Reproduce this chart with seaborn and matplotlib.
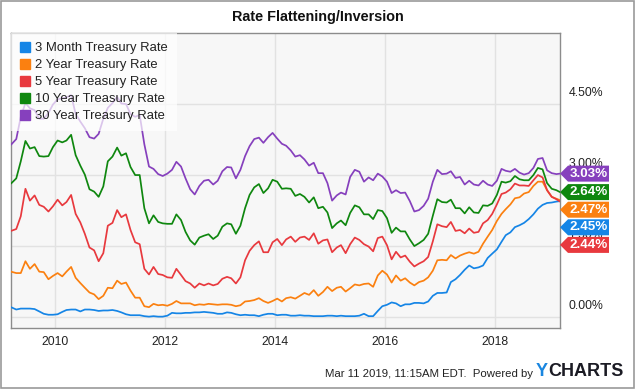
import numpy as np
import pandas as pd
import matplotlib
matplotlib.use("Agg")
import matplotlib.pyplot as plt
import matplotlib.dates as mdates
from matplotlib.patches import Polygon, Rectangle
from matplotlib.lines import Line2D
from matplotlib.transforms import ScaledTranslation
import seaborn as sns

# ---------------- data (monthly, Mar 2009 - Mar 2019) ----------------
series_names = ["3 Month Treasury Rate", "2 Year Treasury Rate", "5 Year Treasury Rate",
                "10 Year Treasury Rate", "30 Year Treasury Rate"]
series_colors = ["#1585e6", "#fb8010", "#e8393e", "#0f870f", "#8640bd"]

m3 = [0.21, 0.16, 0.18, 0.18, 0.18, 0.17, 0.12, 0.07, 0.05, 0.05,
      0.06, 0.11, 0.15, 0.16, 0.16, 0.12, 0.16, 0.16, 0.15, 0.13, 0.14, 0.14,
      0.15, 0.13, 0.10, 0.06, 0.04, 0.04, 0.04, 0.02, 0.01, 0.02, 0.01, 0.01,
      0.03, 0.09, 0.08, 0.08, 0.09, 0.09, 0.10, 0.10, 0.11, 0.10, 0.09, 0.07,
      0.07, 0.10, 0.09, 0.06, 0.04, 0.05, 0.04, 0.04, 0.02, 0.05, 0.07, 0.07,
      0.04, 0.05, 0.05, 0.03, 0.03, 0.04, 0.03, 0.03, 0.02, 0.02, 0.02, 0.03,
      0.03, 0.02, 0.03, 0.02, 0.02, 0.02, 0.03, 0.07, 0.02, 0.02, 0.13, 0.23,
      0.26, 0.31, 0.29, 0.23, 0.27, 0.27, 0.30, 0.30, 0.29, 0.33, 0.45, 0.51,
      0.51, 0.52, 0.74, 0.80, 0.89, 1.00, 1.09, 1.03, 1.05, 1.09, 1.25, 1.34,
      1.43, 1.59, 1.73, 1.79, 1.90, 1.94, 1.99, 2.07, 2.17, 2.29, 2.37, 2.41,
      2.42, 2.44, 2.45]

y2 = [0.96, 0.93, 0.93, 1.18, 1.02, 1.12, 0.96, 0.95, 0.80, 0.87,
      0.93, 0.86, 0.96, 1.06, 0.83, 0.72, 0.62, 0.52, 0.48, 0.38, 0.45, 0.62,
      0.61, 0.77, 0.70, 0.73, 0.56, 0.41, 0.41, 0.23, 0.21, 0.28, 0.25, 0.26,
      0.24, 0.28, 0.34, 0.29, 0.29, 0.29, 0.25, 0.27, 0.26, 0.28, 0.27, 0.26,
      0.27, 0.27, 0.26, 0.23, 0.25, 0.33, 0.34, 0.36, 0.40, 0.34, 0.30, 0.34,
      0.39, 0.33, 0.40, 0.42, 0.39, 0.45, 0.51, 0.47, 0.57, 0.45, 0.53, 0.64,
      0.55, 0.62, 0.64, 0.54, 0.61, 0.69, 0.67, 0.70, 0.71, 0.64, 0.88, 0.98,
      0.90, 0.73, 0.88, 0.77, 0.82, 0.73, 0.67, 0.74, 0.77, 0.84, 0.98, 1.20,
      1.21, 1.20, 1.31, 1.24, 1.30, 1.34, 1.37, 1.34, 1.38, 1.55, 1.70, 1.84,
      2.03, 2.18, 2.28, 2.38, 2.51, 2.53, 2.61, 2.64, 2.77, 2.86, 2.86, 2.68,
      2.54, 2.50, 2.47]

y5 = [1.82, 1.86, 2.13, 2.71, 2.46, 2.57, 2.37, 2.33, 2.23, 2.34,
      2.48, 2.36, 2.43, 2.58, 2.18, 2.00, 1.76, 1.47, 1.41, 1.18, 1.35, 1.93,
      1.99, 2.26, 2.11, 2.17, 1.84, 1.58, 1.54, 1.02, 0.90, 1.06, 0.91, 0.89,
      0.84, 0.83, 1.02, 0.89, 0.76, 0.71, 0.62, 0.71, 0.67, 0.71, 0.67, 0.70,
      0.81, 0.85, 0.82, 0.71, 0.84, 1.20, 1.40, 1.52, 1.60, 1.37, 1.37, 1.58,
      1.65, 1.52, 1.64, 1.70, 1.59, 1.68, 1.70, 1.63, 1.77, 1.55, 1.62, 1.64,
      1.37, 1.47, 1.52, 1.35, 1.54, 1.68, 1.63, 1.54, 1.49, 1.39, 1.67, 1.70,
      1.52, 1.22, 1.38, 1.26, 1.30, 1.17, 1.07, 1.13, 1.18, 1.27, 1.60, 1.96,
      1.92, 1.90, 2.01, 1.82, 1.84, 1.77, 1.87, 1.78, 1.80, 1.98, 2.05, 2.18,
      2.38, 2.60, 2.63, 2.70, 2.82, 2.78, 2.78, 2.77, 2.89, 3.00, 2.95, 2.68,
      2.54, 2.49, 2.44]

y10 = [2.82, 2.93, 3.29, 3.72, 3.56, 3.59, 3.40, 3.39, 3.40, 3.59,
       3.73, 3.69, 3.73, 3.85, 3.42, 3.20, 3.01, 2.70, 2.65, 2.54, 2.76, 3.29,
       3.39, 3.58, 3.41, 3.46, 3.17, 3.00, 3.00, 2.30, 1.98, 2.15, 2.01, 1.98,
       1.97, 1.97, 2.17, 2.05, 1.80, 1.62, 1.53, 1.68, 1.72, 1.75, 1.65, 1.72,
       1.91, 1.98, 1.96, 1.76, 1.93, 2.30, 2.58, 2.74, 2.81, 2.62, 2.72, 2.90,
       2.86, 2.71, 2.72, 2.71, 2.56, 2.60, 2.54, 2.42, 2.53, 2.30, 2.33, 2.21,
       1.88, 1.98, 2.04, 1.94, 2.20, 2.36, 2.32, 2.17, 2.17, 2.07, 2.26, 2.24,
       2.09, 1.78, 1.89, 1.81, 1.81, 1.64, 1.50, 1.56, 1.63, 1.76, 2.14, 2.49,
       2.43, 2.42, 2.48, 2.30, 2.30, 2.19, 2.32, 2.21, 2.20, 2.36, 2.35, 2.40,
       2.58, 2.86, 2.84, 2.87, 2.98, 2.91, 2.89, 2.89, 3.00, 3.15, 3.12, 2.83,
       2.71, 2.68, 2.64]

y30 = [3.64, 3.76, 4.23, 4.52, 4.41, 4.37, 4.19, 4.19, 4.31, 4.49,
       4.60, 4.62, 4.64, 4.69, 4.29, 4.13, 3.99, 3.80, 3.77, 3.87, 4.19, 4.42,
       4.52, 4.65, 4.51, 4.50, 4.29, 4.23, 4.27, 3.65, 3.18, 3.13, 3.02, 2.98,
       3.03, 3.11, 3.28, 3.18, 2.93, 2.70, 2.59, 2.77, 2.88, 2.90, 2.80, 2.88,
       3.08, 3.17, 3.16, 2.93, 3.11, 3.40, 3.61, 3.76, 3.79, 3.68, 3.80, 3.89,
       3.77, 3.66, 3.62, 3.52, 3.39, 3.42, 3.33, 3.20, 3.26, 3.04, 3.04, 2.83,
       2.46, 2.57, 2.63, 2.59, 2.96, 3.11, 3.07, 2.86, 2.95, 2.89, 3.03, 2.97,
       2.86, 2.62, 2.68, 2.62, 2.63, 2.45, 2.23, 2.26, 2.35, 2.50, 2.86, 3.11,
       3.02, 3.03, 3.08, 2.94, 2.96, 2.80, 2.88, 2.80, 2.78, 2.88, 2.80, 2.77,
       2.88, 3.13, 3.09, 3.07, 3.13, 3.05, 3.01, 3.04, 3.15, 3.34, 3.36, 3.10,
       3.04, 3.02, 3.03]

y_ticks = [0.0, 1.5, 3.0, 4.5]
y_tick_labels = ["0.00%", "1.50%", "3.00%", "4.50%"]
x_tick_years = [2010, 2012, 2014, 2016, 2018]

title = "Rate Flattening/Inversion"
footer = "Mar 11 2019, 11:15AM EDT.  Powered by"

# ---------------- build frame ----------------
dates = pd.date_range("2009-03-01", "2019-03-01", freq="MS") + pd.Timedelta(days=14)
dates = dates.tolist()
dates[0] = pd.Timestamp("2009-03-11")
dates[-1] = pd.Timestamp("2019-03-11")
dates = pd.DatetimeIndex(dates)

all_vals = [m3, y2, y5, y10, y30]
df = pd.concat([pd.DataFrame({"date": dates, "rate": v, "series": n})
                for n, v in zip(series_names, all_vals)], ignore_index=True)

# ---------------- figure ----------------
sns.set_theme(style="white")
plt.rcParams["font.family"] = ["Liberation Sans", "DejaVu Sans"]

W, H = 635, 389
fig = plt.figure(figsize=(W / 100, H / 100), dpi=100)
fig.patch.set_facecolor("white")
ax = fig.add_axes([11 / W, 1 - 328 / H, (560 - 11) / W, (328 - 33) / H])
ax.set_facecolor("#f7f7f7")

sns.lineplot(data=df, x="date", y="rate", hue="series", hue_order=series_names,
             palette=series_colors, linewidth=1.25, ax=ax, legend=False, zorder=3)

xmin, xmax = pd.Timestamp("2009-03-11"), pd.Timestamp("2019-03-11")
ax.set_xlim(xmin, xmax)
ax.set_ylim(-0.23, 6.0)
ax.set_xlabel("")
ax.set_ylabel("")

ax.set_xticks([pd.Timestamp(f"{y}-01-01") for y in x_tick_years])
ax.set_xticklabels([str(y) for y in x_tick_years], fontsize=8.8, color="#222222")
ax.yaxis.tick_right()
ax.set_yticks(y_ticks)
ax.set_yticklabels(y_tick_labels, fontsize=8.8, color="#222222")
ax.tick_params(axis="both", length=0)
ax.tick_params(axis="x", pad=6)
ax.tick_params(axis="y", pad=6)
off = ScaledTranslation(0, 9 / 72, fig.dpi_scale_trans)
for lab in ax.get_yticklabels():
    lab.set_transform(lab.get_transform() + off)
    lab.set_zorder(1)
ax.grid(True, color="#e2e2e2", linewidth=1.0, zorder=0)
ax.set_axisbelow(True)
for s in ax.spines.values():
    s.set_color("#8c8c8c")
    s.set_linewidth(1.0)

# legend
handles = [Line2D([], [], marker="s", linestyle="none", markersize=6.5,
                  markerfacecolor=c, markeredgecolor=c) for c in series_colors]
leg = ax.legend(handles, series_names, loc="upper left", bbox_to_anchor=(0.0, 1.0),
                fontsize=9.4, frameon=True, fancybox=False, borderaxespad=0,
                handlelength=0.8, handletextpad=0.35, labelspacing=0.37,
                borderpad=0.7, framealpha=0.7)
leg.get_frame().set_facecolor("white")
leg.get_frame().set_edgecolor("none")
leg.set_zorder(5)
for t in leg.get_texts():
    t.set_color("#222222")

# end-value tags (stacked so they do not overlap)
fig.canvas.draw()
last = [(v[-1], c) for v, c in zip(all_vals, series_colors)]
last.sort(key=lambda t: -t[0])
x0_disp = ax.transAxes.transform((1.0, 0.0))[0]
prev = None
step = 17.6
for val, col in last:
    yd = ax.transData.transform((mdates.date2num(xmax), val))[1]
    if prev is not None and yd > prev - step:
        yd = prev - step
    prev = yd
    hh = 8.0
    pts = [(x0_disp, yd), (x0_disp + 8, yd + hh), (x0_disp + 49, yd + hh),
           (x0_disp + 49, yd - hh), (x0_disp + 8, yd - hh)]
    pts = [fig.transFigure.inverted().transform(p) for p in pts]
    fig.patches.append(Polygon(pts, closed=True, facecolor=col, edgecolor="none",
                               transform=fig.transFigure, zorder=10))
    tx, ty = fig.transFigure.inverted().transform((x0_disp + 28.5, yd))
    fig.text(tx, ty, f"{val:.2f}%", color="white", fontsize=9.6, fontweight="bold",
             ha="center", va="center", zorder=11)

# title and footer
fig.text(317.5 / W, 1 - 17 / H, title, ha="center", va="center", fontsize=10.4,
         fontweight="bold", color="#111111")
fig.text(533 / W, 1 - 374 / H, footer, ha="right", va="center", fontsize=8.2,
         color="#222222")
fig.text(536 / W, 1 - 372 / H, "Y", ha="left", va="center", fontsize=13,
         fontweight="bold", color="#1a86e0")
fig.text(548 / W, 1 - 372 / H, "CHARTS", ha="left", va="center", fontsize=13,
         fontweight="bold", color="#1b1b24")

# outer border
fig.patches.append(Rectangle((0.0008, 0.0013), 0.9984, 0.9974, transform=fig.transFigure,
                             fill=False, edgecolor="#9a9a9a", linewidth=1.2, zorder=20))

fig.savefig("out.png", dpi=100)
